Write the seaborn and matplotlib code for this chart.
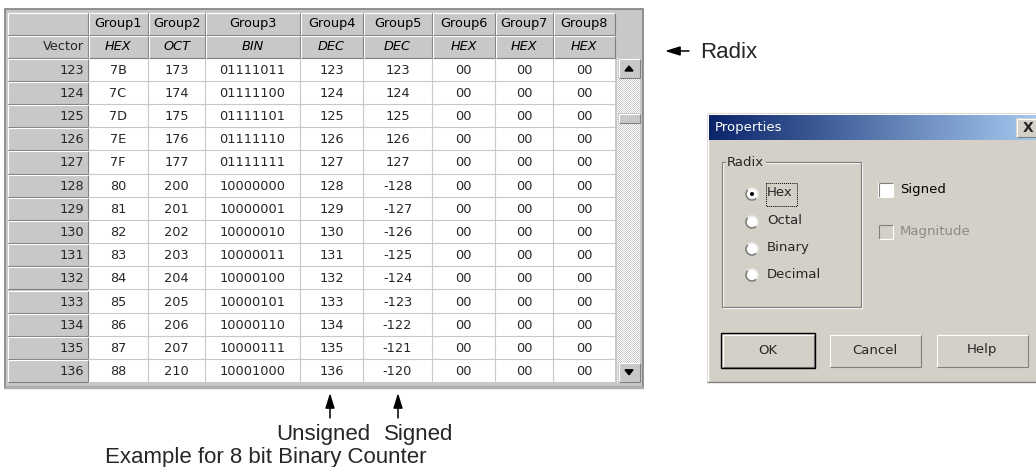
import numpy as np
import matplotlib
matplotlib.use("Agg")
import matplotlib.pyplot as plt
import seaborn as sns
from matplotlib.patches import Rectangle, Circle, Arc

sns.set_theme(style="white")
plt.rcParams['font.family'] = ['DejaVu Sans']

# ---------------- data ----------------
groups = ["Group1", "Group2", "Group3", "Group4", "Group5", "Group6", "Group7", "Group8"]
radix_row = ["HEX", "OCT", "BIN", "DEC", "DEC", "HEX", "HEX", "HEX"]
vectors = ["123", "124", "125", "126", "127", "128", "129", "130", "131", "132", "133", "134", "135", "136"]
g1_hex = ["7B", "7C", "7D", "7E", "7F", "80", "81", "82", "83", "84", "85", "86", "87", "88"]
g2_oct = ["173", "174", "175", "176", "177", "200", "201", "202", "203", "204", "205", "206", "207", "210"]
g3_bin = ["01111011", "01111100", "01111101", "01111110", "01111111", "10000000", "10000001",
          "10000010", "10000011", "10000100", "10000101", "10000110", "10000111", "10001000"]
g4_dec = ["123", "124", "125", "126", "127", "128", "129", "130", "131", "132", "133", "134", "135", "136"]
g5_sdec = ["123", "124", "125", "126", "127", "-128", "-127", "-126", "-125", "-124", "-123", "-122", "-121", "-120"]
g6_hex = ["00", "00", "00", "00", "00", "00", "00", "00", "00", "00", "00", "00", "00", "00"]
g7_hex = ["00", "00", "00", "00", "00", "00", "00", "00", "00", "00", "00", "00", "00", "00"]
g8_hex = ["00", "00", "00", "00", "00", "00", "00", "00", "00", "00", "00", "00", "00", "00"]
columns = [g1_hex, g2_oct, g3_bin, g4_dec, g5_sdec, g6_hex, g7_hex, g8_hex]

radio_options = ["Hex", "Octal", "Binary", "Decimal"]
check_options = ["Signed", "Magnitude"]
buttons = ["OK", "Cancel", "Help"]

# ---------------- figure ----------------
W, H = 1036, 467
fig = plt.figure(figsize=(W / 100, H / 100), dpi=100)
ax = fig.add_axes([0, 0, 1, 1])
fig.patch.set_facecolor("white")

FACE = "#d4d0c8"
HEAD = "#c8c8c8"
DARK = "#808080"
TFS = 9.3


def line(x0, y0, x1, y1, c, lw=1.0, z=3):
    ax.plot([x0, x1], [y0, y1], color=c, lw=lw, solid_capstyle="butt", zorder=z)


def bevel(x0, y0, x1, y1, face, raised=True, z=2, outer=None):
    ax.add_patch(Rectangle((x0, y0), x1 - x0, y1 - y0, facecolor=face, edgecolor="none", zorder=z))
    lt, rb = ("white", DARK) if raised else (DARK, "white")
    line(x0 + 0.5, y0 + 0.5, x1 - 0.5, y0 + 0.5, lt, 0.8, z + 0.1)
    line(x0 + 0.5, y0 + 0.5, x0 + 0.5, y1 - 0.5, lt, 0.8, z + 0.1)
    line(x0 + 0.5, y1 - 0.5, x1 - 0.5, y1 - 0.5, rb, 0.8, z + 0.1)
    line(x1 - 0.5, y0 + 0.5, x1 - 0.5, y1 - 0.5, rb, 0.8, z + 0.1)
    if outer is not None:
        ax.add_patch(Rectangle((x0 - 1, y0 - 1), x1 - x0 + 2, y1 - y0 + 2, facecolor="none",
                               edgecolor=outer, lw=1.0, zorder=z + 0.2))


# ---------------- table ----------------
col_edges = [7, 88, 148, 205, 300, 363, 432, 495, 553, 615]
h_top, h_mid, body_top = 12, 35, 58
row_h = 23.2
n_rows = len(vectors)
body_bot = body_top + row_h * n_rows

# frame
ax.add_patch(Rectangle((5, 9), 638, body_bot - 9 + 5, facecolor=HEAD, edgecolor=DARK, lw=1.2, zorder=1))
line(5, body_bot + 4, 643, body_bot + 4, "#b0b0b0", 2.5, 1.5)

# header cells
for i in range(len(col_edges) - 1):
    x0, x1 = col_edges[i], col_edges[i + 1]
    bevel(x0, h_top, x1, h_mid, HEAD)
    bevel(x0, h_mid, x1, body_top, HEAD)
    if i > 0:
        cx = (x0 + x1) / 2
        ax.text(cx, (h_top + h_mid) / 2 + 0.5, groups[i - 1], ha="center", va="center", fontsize=TFS, color="black", zorder=5)
        ax.text(cx, (h_mid + body_top) / 2 + 0.5, radix_row[i - 1], ha="center", va="center", fontsize=TFS,
                style="italic", color="black", zorder=5)
ax.text(col_edges[1] - 4, (h_mid + body_top) / 2 + 0.5, "Vector", ha="right", va="center", fontsize=TFS, zorder=5)

# body
ax.add_patch(Rectangle((col_edges[1], body_top), col_edges[-1] - col_edges[1], body_bot - body_top,
                       facecolor="white", edgecolor="none", zorder=2))
for r in range(n_rows):
    y0 = body_top + r * row_h
    y1 = y0 + row_h
    yc = (y0 + y1) / 2 + 0.5
    bevel(col_edges[0], y0, col_edges[1], y1, HEAD)
    ax.text(col_edges[1] - 4, yc, vectors[r], ha="right", va="center", fontsize=TFS, zorder=5)
    line(col_edges[1], y1 - 0.5, col_edges[-1], y1 - 0.5, "#c8c8c8", 0.8, 2.5)
    for c in range(len(columns)):
        x0, x1 = col_edges[c + 1], col_edges[c + 2]
        ax.text((x0 + x1) / 2, yc, columns[c][r], ha="center", va="center", fontsize=TFS, zorder=5)
for c in range(2, len(col_edges) - 1):
    line(col_edges[c] - 0.5, body_top, col_edges[c] - 0.5, body_bot, "#c8c8c8", 0.8, 2.5)

# scrollbar
sx0, sx1 = 617, 640
ax.add_patch(Rectangle((615, h_top), sx1 - 615, body_top - h_top - 1, facecolor=HEAD, edgecolor="none", zorder=2))
th, tw = int(round(body_bot - body_top)), sx1 - sx0
yy, xx = np.mgrid[0:th, 0:tw]
chk = np.where((yy + xx) % 2 == 0, 1.0, 0.80)
ax.imshow(np.dstack([chk, chk, chk]), extent=(sx0, sx1, body_bot, body_top), aspect="auto",
          interpolation="nearest", zorder=2)
bevel(sx0 + 1, body_top, sx1, body_top + 20, HEAD, outer=None, z=3)
bevel(sx0 + 1, 113, sx1, 123, HEAD, z=3)
bevel(sx0 + 1, body_bot - 20, sx1, body_bot, HEAD, z=3)
cx = (sx0 + 1 + sx1) / 2
ax.fill([cx - 4, cx + 4, cx], [body_top + 13, body_top + 13, body_top + 8], color="black", zorder=4)
ax.fill([cx - 4, cx + 4, cx], [body_bot - 13, body_bot - 13, body_bot - 8], color="black", zorder=4)

# ---------------- annotations ----------------
LFS = 16
LFAM = ["Liberation Sans", "DejaVu Sans"]
arrow_kw = dict(arrowstyle="-|>,head_length=0.9,head_width=0.28", color="black", lw=1.1,
                shrinkA=0, shrinkB=0, mutation_scale=10)
ax.annotate("", xy=(665, 51), xytext=(689, 51), arrowprops=arrow_kw, zorder=6)
ax.text(700, 58, "Radix", ha="left", va="baseline", fontsize=LFS, family=LFAM)
ax.annotate("", xy=(330, 393), xytext=(330, 418), arrowprops=arrow_kw, zorder=6)
ax.annotate("", xy=(398, 393), xytext=(398, 418), arrowprops=arrow_kw, zorder=6)
ax.text(276, 440, "Unsigned", ha="left", va="baseline", fontsize=LFS, family=LFAM)
ax.text(384, 440, "Signed", ha="left", va="baseline", fontsize=LFS, family=LFAM)
ax.text(105, 463, "Example for 8 bit Binary Counter", ha="left", va="baseline", fontsize=LFS, family=LFAM)

# ---------------- dialog ----------------
DFS = 9.5
dx0, dy0, dx1, dy1 = 707, 113, 1040, 382
ax.add_patch(Rectangle((dx0, dy0), dx1 - dx0, dy1 - dy0, facecolor=FACE, edgecolor="none", zorder=2))
line(dx0 + 0.5, dy0, dx0 + 0.5, dy1, "white", 1.0)
line(dx0, dy0 + 0.5, dx1, dy0 + 0.5, "white", 1.0)
line(dx0, dy1 - 0.5, dx1, dy1 - 0.5, DARK, 1.0)
c0 = np.array([10, 36, 106]) / 255
c1 = np.array([166, 202, 240]) / 255
t = np.linspace(0, 1, 256)[None, :, None]
grad = c0 + (c1 - c0) * t
ax.imshow(grad, extent=(dx0 + 2, dx1, 140, 115), aspect="auto", interpolation="bilinear", zorder=3)
ax.text(715, 128, "Properties", ha="left", va="center", fontsize=DFS, color="white", zorder=5)
bevel(1016, 118, 1040, 137, FACE, z=4)
ax.text(1028, 128, "X", ha="center", va="center", fontsize=10, fontweight="bold", zorder=5)

# group box
gx0, gy0, gx1, gy1 = 722, 162, 861, 307
ax.add_patch(Rectangle((gx0, gy0), gx1 - gx0, gy1 - gy0, facecolor="none", edgecolor=DARK, lw=0.9, zorder=3))
ax.add_patch(Rectangle((gx0 + 1, gy0 + 1), gx1 - gx0, gy1 - gy0, facecolor="none", edgecolor="white", lw=0.9, zorder=2.9))
ax.text(727, gy0, "Radix", ha="left", va="center", fontsize=DFS, zorder=5,
        bbox=dict(facecolor=FACE, edgecolor="none", pad=1.0))

radio_y = [194, 222, 249, 275]
for lbl, ry in zip(radio_options, radio_y):
    ax.add_patch(Circle((752, ry), 6, facecolor="white", edgecolor="none", zorder=4))
    ax.add_patch(Arc((752, ry), 12, 12, theta1=45, theta2=225, color=DARK, lw=1.2, zorder=4.2))
    ax.add_patch(Arc((752, ry), 12, 12, theta1=225, theta2=405, color="#e8e8e8", lw=1.2, zorder=4.2))
    ax.text(767, ry - 1, lbl, ha="left", va="center", fontsize=DFS, zorder=5)
ax.add_patch(Circle((752, radio_y[0]), 2, facecolor="black", edgecolor="none", zorder=5))
ax.add_patch(Rectangle((766, 183), 31, 23, facecolor="none", edgecolor="black", lw=0.7, ls=(0, (1, 1)), zorder=5))

check_y = [190, 232]
for k, (lbl, cy) in enumerate(zip(check_options, check_y)):
    face = "white" if k == 0 else FACE
    bevel(878, cy - 7.5, 893, cy + 7.5, face, raised=False, z=4)
    ax.text(900, cy, lbl, ha="left", va="center", fontsize=DFS, color="black" if k == 0 else "#8a8a8a", zorder=5)

btn_x = [(722, 814), (829, 921), (936, 1028)]
for k, (lbl, (bx0, bx1)) in enumerate(zip(buttons, btn_x)):
    bevel(bx0, 334, bx1, 367, FACE, z=4, outer="black" if k == 0 else None)
    ax.text((bx0 + bx1) / 2, 350, lbl, ha="center", va="center", fontsize=DFS, zorder=6)

ax.set_xlim(0, W)
ax.set_ylim(H, 0)
ax.axis("off")
fig.savefig("out.png", dpi=100)
